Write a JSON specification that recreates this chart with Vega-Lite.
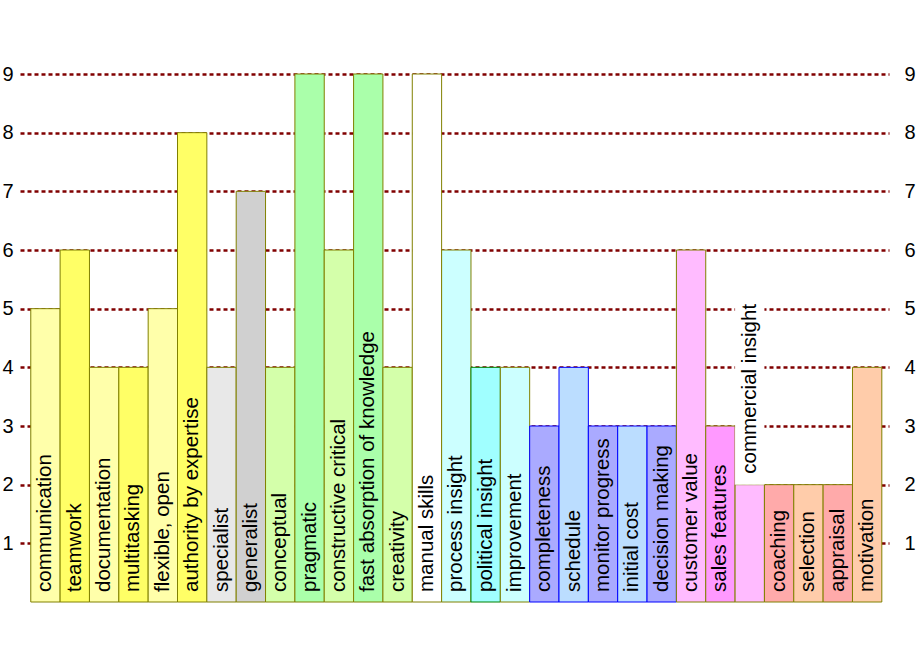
{
  "$schema": "https://vega.github.io/schema/vega-lite/v6.json",
  "autosize": {"type": "none"},
  "width": 869,
  "height": 528,
  "padding": {"left": 20, "top": 74, "right": 31, "bottom": 58},
  "background": "white",
  "config": {"view": {"stroke": null}, "font": "Liberation Sans"},
  "data": {"values": [
    {"name": "communication", "value": 5},
    {"name": "teamwork", "value": 6},
    {"name": "documentation", "value": 4},
    {"name": "multitasking", "value": 4},
    {"name": "flexible, open", "value": 5},
    {"name": "authority by expertise", "value": 8},
    {"name": "specialist", "value": 4},
    {"name": "generalist", "value": 7},
    {"name": "conceptual", "value": 4},
    {"name": "pragmatic", "value": 9},
    {"name": "constructive critical", "value": 6},
    {"name": "fast absorption of knowledge", "value": 9},
    {"name": "creativity", "value": 4},
    {"name": "manual skills", "value": 9},
    {"name": "process insight", "value": 6},
    {"name": "political insight", "value": 4},
    {"name": "improvement", "value": 4},
    {"name": "completeness", "value": 3},
    {"name": "schedule", "value": 4},
    {"name": "monitor progress", "value": 3},
    {"name": "initial cost", "value": 3},
    {"name": "decision making", "value": 3},
    {"name": "customer value", "value": 6},
    {"name": "sales features", "value": 3},
    {"name": "commercial insight", "value": 2},
    {"name": "coaching", "value": 2},
    {"name": "selection", "value": 2},
    {"name": "appraisal", "value": 2},
    {"name": "motivation", "value": 4}
  ]},
  "encoding": {
    "x": {"field": "name", "type": "nominal", "sort": null, "axis": null,
          "scale": {"paddingInner": 0, "paddingOuter": 0.306, "align": 0.6}}
  },
  "layer": [
    {
      "mark": {"type": "bar", "strokeWidth": 1},
      "encoding": {
        "y": {"field": "value", "type": "quantitative",
              "scale": {"domain": [0, 9], "nice": false},
              "axis": {"values": [1,2,3,4,5,6,7,8,9], "orient": "left", "title": null,
                       "domain": false, "ticks": false, "labelPadding": 7,
                       "labelFontSize": 20, "labelColor": "black", "labelFont": "Liberation Sans",
                       "grid": true, "gridColor": "#800000", "gridDash": [4, 3], "gridWidth": 2.4, "gridOpacity": 1}},
        "fill": {"field": "name", "type": "nominal", "legend": null,
                 "scale": {"domain": ["communication","teamwork","documentation","multitasking","flexible, open","authority by expertise","specialist","generalist","conceptual","pragmatic","constructive critical","fast absorption of knowledge","creativity","manual skills","process insight","political insight","improvement","completeness","schedule","monitor progress","initial cost","decision making","customer value","sales features","commercial insight","coaching","selection","appraisal","motivation"],
                           "range": ["#FFFFAA","#FFFF66","#FFFFAA","#FFFF66","#FFFFAA","#FFFF66","#E8E8E8","#D0D0D0","#D4FFAA","#AAFFAA","#D4FFAA","#AAFFAA","#D4FFAA","#FFFFFF","#CCFFFF","#A0FFFF","#CCFFFF","#AAAAFF","#BBDDFF","#AAAAFF","#BBDDFF","#AAAAFF","#FFBBFF","#FF99FF","#FFBBFF","#FFAAAA","#FFCCAA","#FFAAAA","#FFCCAA"]}},
        "stroke": {
          "condition": [
            {"test": "indexof(['completeness','schedule','monitor progress','initial cost','decision making'], datum.name) >= 0", "value": "#0000FF"},
            {"test": "datum.name === 'political insight'", "value": "#008000"}
          ],
          "value": "#808000"
        }
      }
    },
    {
      "mark": {"type": "rule", "opacity": 0},
      "encoding": {
        "y": {"datum": 1, "type": "quantitative",
              "axis": {"values": [1,2,3,4,5,6,7,8,9], "orient": "right", "title": null,
                       "domain": false, "ticks": false, "labelPadding": 15,
                       "labelFontSize": 20, "labelColor": "black", "labelFont": "Liberation Sans",
                       "grid": false}}
      }
    },
    {
      "transform": [{"filter": "datum.name === 'commercial insight'"}],
      "mark": {"type": "bar", "fill": "white", "stroke": null},
      "encoding": {
        "y": {"field": "value", "type": "quantitative", "axis": null},
        "y2": {"datum": 5.15}
      }
    },
    {
      "transform": [{"filter": "datum.name !== 'commercial insight'"}],
      "mark": {"type": "text", "angle": 270, "align": "left", "baseline": "middle", "dx": 10,
               "fontSize": 20.5, "font": "Liberation Sans", "color": "black"},
      "encoding": {
        "y": {"datum": 0, "type": "quantitative", "axis": null},
        "text": {"field": "name"}
      }
    },
    {
      "transform": [{"filter": "datum.name === 'commercial insight'"}],
      "mark": {"type": "text", "angle": 270, "align": "left", "baseline": "middle", "dx": 11,
               "fontSize": 20.5, "font": "Liberation Sans", "color": "black"},
      "encoding": {
        "y": {"field": "value", "type": "quantitative", "axis": null},
        "text": {"field": "name"}
      }
    }
  ],
  "resolve": {"scale": {"y": "shared"}, "axis": {"y": "independent"}}
}
